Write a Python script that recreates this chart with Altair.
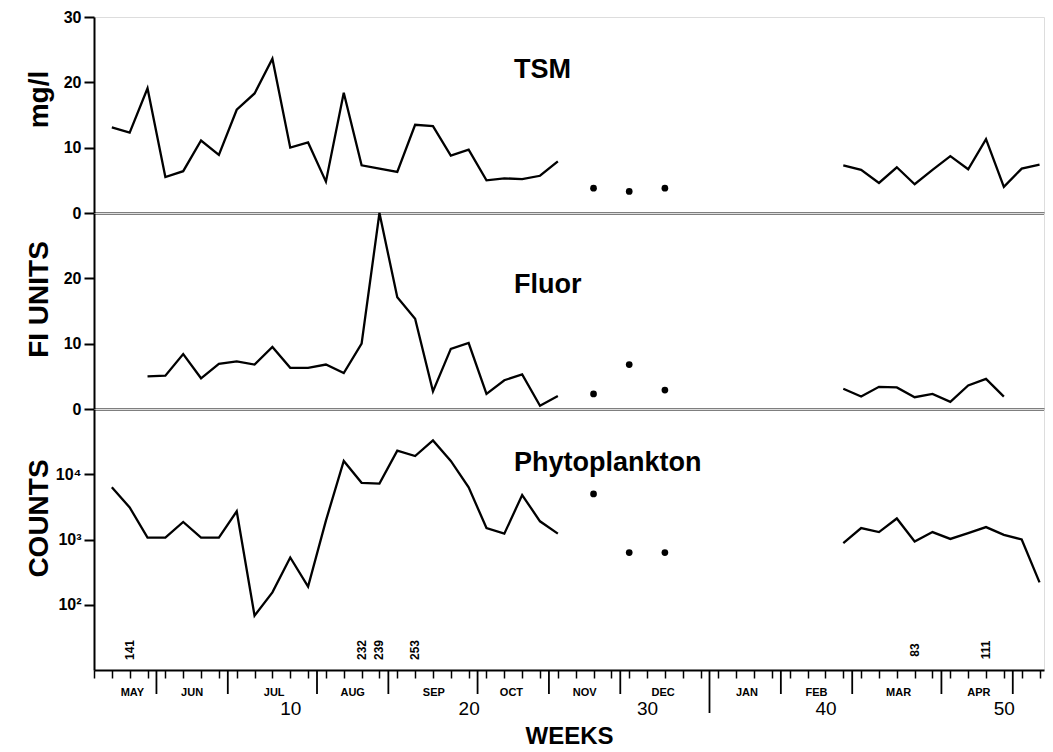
import altair as alt
import pandas as pd

FONT = "Liberation Sans"

# ---------------- data ----------------
tsm_weeks_1 = list(range(0, 26))
tsm_values_1 = [13.1, 12.3, 19.1, 5.5, 6.4, 11.1, 8.9, 15.8, 18.3, 23.6, 10.0, 10.8, 4.8,
                18.4, 7.3, 6.8, 6.3, 13.5, 13.3, 8.8, 9.7, 5.0, 5.3, 5.2, 5.7, 7.9]
tsm_weeks_2 = list(range(41, 53))
tsm_values_2 = [7.3, 6.6, 4.6, 7.0, 4.4, 6.6, 8.7, 6.7, 11.3, 4.0, 6.8, 7.4]

fluor_weeks_1 = list(range(2, 26))
fluor_values_1 = [5.0, 5.1, 8.4, 4.7, 6.9, 7.3, 6.8, 9.5, 6.3, 6.3, 6.8, 5.5, 10.0, 30.0,
                  17.1, 13.8, 2.7, 9.2, 10.1, 2.3, 4.4, 5.3, 0.5, 2.0]
fluor_weeks_2 = list(range(41, 51))
fluor_values_2 = [3.1, 1.9, 3.4, 3.3, 1.8, 2.3, 1.1, 3.6, 4.6, 1.9]

phyto_weeks_1 = list(range(0, 26))
phyto_values_1 = [6300, 3100, 1070, 1070, 1860, 1070, 1070, 2700, 68, 155, 530, 190, 1950,
                  16000, 7400, 7200, 23000, 19000, 33000, 16000, 6300, 1500, 1230, 4800, 1900, 1230]
phyto_weeks_2 = list(range(41, 53))
phyto_values_2 = [880, 1500, 1300, 2100, 930, 1300, 1020, 1250, 1550, 1180, 1000, 220]

dot_weeks = [27, 29, 31]
tsm_dots = [3.8, 3.3, 3.8]
fluor_dots = [2.3, 6.8, 2.9]
phyto_dots = [5000, 630, 630]

note_weeks = [1, 14, 15, 17, 45, 49]
note_labels = ["141", "232", "239", "253", "83", "111"]

month_names = ["MAY", "JUN", "JUL", "AUG", "SEP", "OCT", "NOV", "DEC", "JAN", "FEB", "MAR", "APR"]
month_weeks = [1.15, 4.5, 9.1, 13.5, 18.05, 22.4, 26.5, 30.9, 35.6, 39.5, 44.1, 48.6]
month_breaks = [2.5, 6.5, 11.5, 15.5, 20.5, 24.5, 28.5, 37.5, 41.5, 46.5, 50.5]
year_break = [33.5]

week_ticks = list(range(-1, 53))
x_domain = [-1, 52.25]

# ---------------- layout ----------------
W = 950
H_TSM, H_FL, H_PH = 196, 196, 261
TITLE_X = -55


def frame(seg1_w, seg1_v, seg2_w, seg2_v):
    return pd.DataFrame({
        "week": seg1_w + seg2_w,
        "value": seg1_v + seg2_v,
        "seg": ["a"] * len(seg1_w) + ["b"] * len(seg2_w),
    })


tsm_df = frame(tsm_weeks_1, tsm_values_1, tsm_weeks_2, tsm_values_2)
fl_df = frame(fluor_weeks_1, fluor_values_1, fluor_weeks_2, fluor_values_2)
ph_df = frame(phyto_weeks_1, phyto_values_1, phyto_weeks_2, phyto_values_2)
dots_df = pd.DataFrame({"week": dot_weeks, "tsm": tsm_dots, "fl": fluor_dots, "ph": phyto_dots})
notes_df = pd.DataFrame({"week": note_weeks, "label": note_labels})
months_df = pd.DataFrame({"week": month_weeks, "name": month_names})
breaks_df = pd.DataFrame({"week": month_breaks})
year_df = pd.DataFrame({"week": year_break})

xscale = alt.Scale(domain=x_domain, nice=False, zero=False)
hidden_x_axis = alt.Axis(title=None, labels=False, ticks=False, grid=False,
                         domain=True, domainColor="black", domainWidth=2)


def x_hidden(field="week"):
    return alt.X(f"{field}:Q", scale=xscale, axis=hidden_x_axis)


bottom_axis = alt.Axis(
    values=week_ticks, format="d",
    labelExpr="datum.value > 0 && datum.value % 10 == 0 ? datum.label : ''",
    tickSize=8, tickWidth=1.5, tickColor="black",
    labelFontSize=19, labelFontWeight="normal", labelPadding=21, labelOverlap=False,
    labelFlush=False,
    title="WEEKS", titleFontSize=24, titleFontWeight="bold", titlePadding=6,
    domain=True, domainColor="black", domainWidth=2, grid=False,
)


def x_bottom(field="week"):
    return alt.X(f"{field}:Q", scale=xscale, axis=bottom_axis)


def y_axis(title, values, title_y, label_expr=None):
    kw = dict(
        title=title, values=values, grid=False,
        tickSize=10, tickWidth=2, tickColor="black",
        domainColor="black", domainWidth=2,
        labelFontSize=16, labelFontWeight="bold", labelPadding=3,
        titleFontSize=28, titleFontWeight="bold", titleAngle=270,
        titleX=TITLE_X, titleY=title_y, titleBaseline="middle", titleAlign="center",
    )
    if label_expr:
        kw["labelExpr"] = label_expr
    return alt.Axis(**kw)


line_style = dict(color="black", strokeWidth=2.3, strokeJoin="miter")
dot_style = dict(color="black", size=45, opacity=1)
label_style = dict(font=FONT, fontSize=27, fontWeight="bold", align="left", baseline="middle", color="black")


def panel_label(text, y):
    return alt.Chart(pd.DataFrame({"t": [text]})).mark_text(**label_style).encode(
        x=alt.value(420), y=alt.value(y), text="t:N")


# ---- TSM ----
tsm_scale = alt.Scale(domain=[0, 30], nice=False)
tsm_axis = y_axis("mg/l", [0, 10, 20, 30], 82)
tsm = alt.layer(
    alt.Chart(tsm_df).mark_line(**line_style).encode(
        x=x_hidden(), y=alt.Y("value:Q", scale=tsm_scale, axis=tsm_axis), detail="seg:N"),
    alt.Chart(dots_df).mark_circle(**dot_style).encode(
        x=x_hidden(), y=alt.Y("tsm:Q", scale=tsm_scale, axis=tsm_axis)),
    panel_label("TSM", 53),
).properties(width=W, height=H_TSM)

# ---- Fluor ----
fl_axis = y_axis("FI UNITS", [0, 10, 20], 86)
fl_scale = alt.Scale(domain=[0, 30], nice=False)
fluor = alt.layer(
    alt.Chart(fl_df).mark_line(**line_style).encode(
        x=x_hidden(), y=alt.Y("value:Q", scale=fl_scale, axis=fl_axis), detail="seg:N"),
    alt.Chart(dots_df).mark_circle(**dot_style).encode(
        x=x_hidden(), y=alt.Y("fl:Q", scale=fl_scale, axis=fl_axis)),
    panel_label("Fluor", 72),
).properties(width=W, height=H_FL)

# ---- Phytoplankton ----
ph_scale = alt.Scale(type="log", domain=[10, 100000], nice=False)
ph_axis = y_axis("COUNTS", [100, 1000, 10000], 109,
                 "datum.value == 100 ? '10²' : datum.value == 1000 ? '10³' : '10⁴'")
phyto = alt.layer(
    alt.Chart(ph_df).mark_line(**line_style).encode(
        x=x_bottom(), y=alt.Y("value:Q", scale=ph_scale, axis=ph_axis), detail="seg:N"),
    alt.Chart(dots_df).mark_circle(**dot_style).encode(
        x=x_bottom(), y=alt.Y("ph:Q", scale=ph_scale, axis=ph_axis)),
    panel_label("Phytoplankton", 54),
    alt.Chart(notes_df).mark_text(font=FONT, fontSize=12, fontWeight="bold", angle=270,
                                  align="center", baseline="middle", color="black").encode(
        x=x_bottom(), y=alt.value(241), text="label:N"),
    alt.Chart(months_df).mark_text(font=FONT, fontSize=11, fontWeight="bold",
                                   align="center", baseline="middle", color="black").encode(
        x=x_bottom(), y=alt.value(H_PH + 23), text="name:N"),
    alt.Chart(breaks_df).mark_rule(color="black", strokeWidth=1.8).encode(
        x=x_bottom(), y=alt.value(H_PH), y2=alt.value(H_PH + 24)),
    alt.Chart(year_df).mark_rule(color="black", strokeWidth=1.8).encode(
        x=x_bottom(), y=alt.value(H_PH), y2=alt.value(H_PH + 43)),
).properties(width=W, height=H_PH)

chart = alt.vconcat(tsm, fluor, phyto, spacing=0, bounds="flush").configure_view(
    stroke=None
).configure_axis(
    labelFont=FONT, titleFont=FONT, labelColor="black", titleColor="black", translate=0
).configure(
    font=FONT, background="white"
).properties(
    padding={"left": 16, "top": 0, "right": 0, "bottom": 0}
)

chart.save("out.html", embed_options={"renderer": "svg", "actions": False})
